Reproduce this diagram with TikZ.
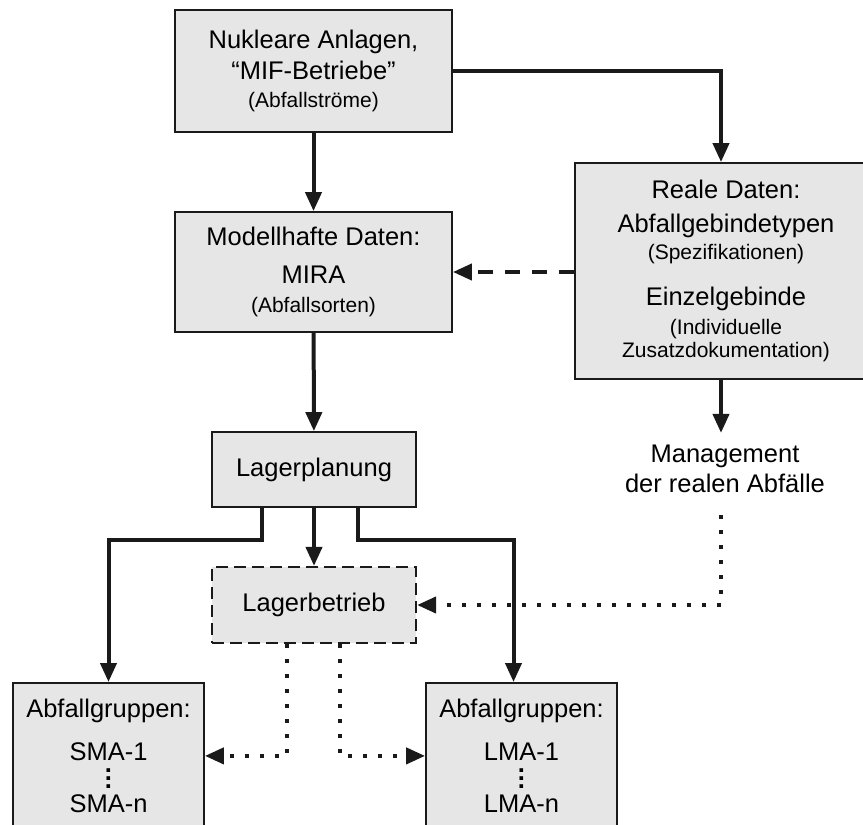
\documentclass[tikz,border=0pt]{standalone}
\usepackage{fontspec}
\setmainfont{Liberation Sans}
\usetikzlibrary{arrows.meta,positioning,calc}
\definecolor{ink}{HTML}{1A1A1A}
\definecolor{panel}{HTML}{E6E6E6}
\newcommand{\sm}[1]{{\fontsize{21}{24}\selectfont #1}}
\newcommand{\vdts}{\vbox{\baselineskip=8pt\lineskiplimit=-20pt
  \hbox{\bfseries .}\hbox{\bfseries .}\hbox{\bfseries .}}}
\tikzset{
  box/.style={draw=ink, fill=panel, line width=1.8pt, align=center, inner sep=0pt,
              font=\fontsize{25.5}{28}\selectfont},
  dashbox/.style={box, line width=2.2pt, dash pattern=on 12pt off 6pt},
  arr/.style={-{Triangle[length=19pt,width=16pt]}, line width=4pt, color=ink},
  arrdash/.style={arr, dash pattern=on 15pt off 12pt},
  arrdot/.style={arr, dash pattern=on 4pt off 11pt},
}

\begin{document}
\begin{tikzpicture}[x=1pt, y=-1pt,
      group/.style={box, anchor=north, minimum width=191pt, minimum height=146pt},
      plain/.style={align=center, inner xsep=0pt, inner ysep=12pt,
                    font=\fontsize{25.5}{28}\selectfont}]
    \useasboundingbox (0,0) rectangle (863,825);
    \node[box, minimum width=277pt, minimum height=122pt] (anlagen) at (313.5,71)
      {Nukleare Anlagen,\\[3pt] “MIF-Betriebe”\\ \sm{(Abfallströme)}};
    \node[box, minimum width=277pt, minimum height=120pt] (mira) at (313.5,272)
      {Modellhafte Daten:\\[10pt] MIRA\\[1pt] \sm{(Abfallsorten)}};
    \node[box, minimum width=302pt, minimum height=216pt] (real) at (726,271)
      {Reale Daten:\\[6pt] Abfallgebindetypen\\[-1pt] \sm{(Spezifikationen)}\\[18pt]
       Einzelgebinde\\[1pt] \sm{(Individuelle}\\[-5pt] \sm{Zusatzdokumentation)}};
    \node[plain] (mgmt) at (725,469) {Management\\[2pt] der realen Abfälle};
    \node[box, minimum width=204pt, minimum height=75pt] (planung) at (314,469.5) {Lagerplanung};
    \node[dashbox, minimum width=204pt, minimum height=76pt] (betrieb) at (314,605) {Lagerbetrieb};
    \node[group] (sma) at (108.5,682) {Abfallgruppen:\\[15pt] SMA-1\\ \vdts\\[-4pt] SMA-n};
    \node[group] (lma) at (521.5,682) {Abfallgruppen:\\[15pt] LMA-1\\ \vdts\\[-4pt] LMA-n};

    \draw[arr] (anlagen) -- (mira);
    \draw[arr] (anlagen.east) -| ([xshift=-5pt]real.north);
    \draw[arrdash] (mira.east -| real.west) -- (mira.east);
    \draw[arr] ([xshift=-5pt]real.south) -- ([xshift=-4pt]mgmt.north);
    \draw[arr] (mira) -- (planung);
    \draw[arr] ([xshift=-52pt]planung.south) -- ++(0,32) -| (sma.north);
    \draw[arr] (planung.south) -- (betrieb.north);
    \draw[arr] ([xshift=44pt]planung.south) -- ++(0,32) -| ([xshift=-8pt]lma.north);
    \draw[arrdot] ([xshift=-4pt,yshift=-10pt]mgmt.south) |- (betrieb.east);
    \draw[arrdot] ([xshift=-27pt]betrieb.south) |- (sma.east);
    \draw[arrdot] ([xshift=26pt]betrieb.south) |- (lma.west);
\end{tikzpicture}
\end{document}
